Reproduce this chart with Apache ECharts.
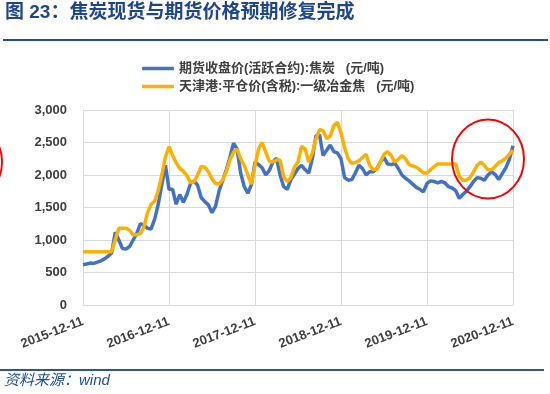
<!DOCTYPE html>
<html>
<head>
<meta charset="utf-8">
<script src="https://cdn.jsdelivr.net/npm/echarts@6/dist/echarts.min.js"></script>
<style>html,body{margin:0;padding:0;background:#fff;}#c{width:550px;height:394px;}</style>
</head>
<body>
<div id="c"></div>
<script>
// Semi-monthly sample points from 2015-12-11 to 2020-12-11 (121 points)
const futuresName = '期货收盘价(活跃合约):焦炭   (元/吨)';
const spotName = '天津港:平仓价(含税):一级冶金焦   (元/吨)';
const futures = [
  620,630,645,640,660,680,710,750,800,1120,
  1000,870,860,900,1000,1100,1250,1230,1180,1170,
  1320,1550,1850,2150,1780,1780,1550,1700,1580,1700,
  1870,1910,1840,1650,1590,1540,1420,1520,1760,1920,
  2080,2270,2490,2400,2030,1820,1720,1850,2200,2160,
  2110,2000,2070,2200,2260,2000,1820,1780,1930,2010,
  2100,2150,2080,2030,2250,2600,2620,2300,2380,2460,
  2360,2340,2250,1960,1920,1930,2030,2150,2100,2000,
  2050,2050,2100,2200,2270,2170,2160,2180,2100,2000,
  1950,1910,1860,1810,1780,1740,1870,1910,1900,1880,
  1900,1880,1820,1800,1760,1640,1700,1750,1820,1900,
  1960,1950,1920,2000,2050,2010,1930,2020,2110,2240,
  2450
];
const spot = [
  820,820,820,820,820,820,820,820,820,1000,
  1180,1180,1180,1150,1080,1080,1100,1200,1420,1550,
  1600,1760,2000,2280,2435,2300,2190,2100,2060,1990,
  1880,1900,2000,2130,2120,2050,1940,1870,1860,1930,
  2050,2230,2350,2400,2250,2150,2000,1860,2150,2400,
  2500,2350,2210,2200,2230,2230,1970,1900,1960,2120,
  2200,2440,2400,2200,2340,2550,2700,2680,2560,2600,
  2760,2810,2650,2420,2250,2180,2190,2220,2270,2320,
  2150,2080,2090,2200,2320,2360,2300,2200,2240,2300,
  2250,2160,2140,2120,2080,2030,2030,2080,2130,2170,
  2170,2170,2170,2170,2170,1980,1920,1920,1960,2050,
  2150,2200,2150,2080,2080,2130,2190,2220,2260,2320,
  2380
];
const yTicks = [0, 500, 1000, 1500, 2000, 2500, 3000];

function pad(n){return n<10?'0'+n:''+n;}
const categories = futures.map(function(_, i){
  const m = 11 + Math.floor(i/2); // zero-based month offset from 2015-12
  const y = 2015 + Math.floor(m/12);
  const mo = (m % 12) + 1;
  return y + '-' + pad(mo) + '-' + (i % 2 === 0 ? '11' : '26');
});

const fontLatin = '"Liberation Sans", Arial, "Noto Sans CJK SC", sans-serif';
const chart = echarts.init(document.getElementById('c'), null, {renderer: 'canvas'});
chart.setOption({
  animation: false,
  backgroundColor: '#ffffff',
  grid: {left: 83, right: 37, top: 110, bottom: 89, containLabel: false},
  legend: {
    orient: 'vertical', left: 137, top: 57, itemGap: 5,
    itemWidth: 32, itemHeight: 3.5, icon: 'roundRect',
    textStyle: {fontSize: 13, fontWeight: 'bold', color: '#404040', fontFamily: fontLatin},
    data: [futuresName, spotName]
  },
  xAxis: {
    type: 'category', data: categories, boundaryGap: false,
    axisLine: {show: true, lineStyle: {color: '#D9D9D9', width: 1}},
    axisTick: {show: false},
    splitLine: {show: true, interval: 23, lineStyle: {color: '#D9D9D9', width: 1}},
    axisLabel: {interval: 23, rotate: 21, margin: 16, fontSize: 13, fontWeight: 'bold',
      color: '#404040', fontFamily: fontLatin, showMaxLabel: true}
  },
  yAxis: {
    type: 'value', min: yTicks[0], max: yTicks[yTicks.length-1], interval: 500,
    axisLine: {show: true, lineStyle: {color: '#D9D9D9', width: 1}},
    axisTick: {show: false},
    splitLine: {show: true, lineStyle: {color: '#D9D9D9', width: 1}},
    axisLabel: {margin: 16, fontSize: 13, fontWeight: 'bold', color: '#404040', fontFamily: fontLatin,
      formatter: function(v){ return v.toLocaleString('en-US'); }}
  },
  series: [
    {name: futuresName, type: 'line', data: futures, showSymbol: false, symbol: 'none',
     lineStyle: {color: '#4472C4', width: 3.5}, itemStyle: {color: '#4472C4'}, z: 2},
    {name: spotName, type: 'line', data: spot, showSymbol: false, symbol: 'none',
     lineStyle: {color: '#FFB000', width: 3.5}, itemStyle: {color: '#FFB000'}, z: 3}
  ],
  graphic: [
    {type: 'text', left: 5, top: 3, style: {text: '图 23：焦炭现货与期货价格预期修复完成',
      fontSize: 19, fontWeight: 'bold', fill: '#1F4690', fontFamily: fontLatin}},
    {type: 'line', shape: {x1: 3, y1: 40, x2: 548, y2: 40}, style: {stroke: '#1F4E9C', lineWidth: 2}},
    {type: 'line', shape: {x1: 0, y1: 370, x2: 544, y2: 370}, style: {stroke: '#2F5597', lineWidth: 2}},
    {type: 'text', left: 4, top: 373, style: {text: '资料来源：wind', fontSize: 15, fontStyle: 'italic',
      fill: '#1F4E9C', fontFamily: fontLatin}},
    {type: 'ellipse', shape: {cx: 488, cy: 159, rx: 36, ry: 39.5}, style: {fill: 'none', stroke: '#FF0000', lineWidth: 2}, z: 100},
    {type: 'ellipse', shape: {cx: -35, cy: 162, rx: 37, ry: 40}, style: {fill: 'none', stroke: '#FF0000', lineWidth: 2}, z: 100}
  ]
});
</script>
</body>
</html>
